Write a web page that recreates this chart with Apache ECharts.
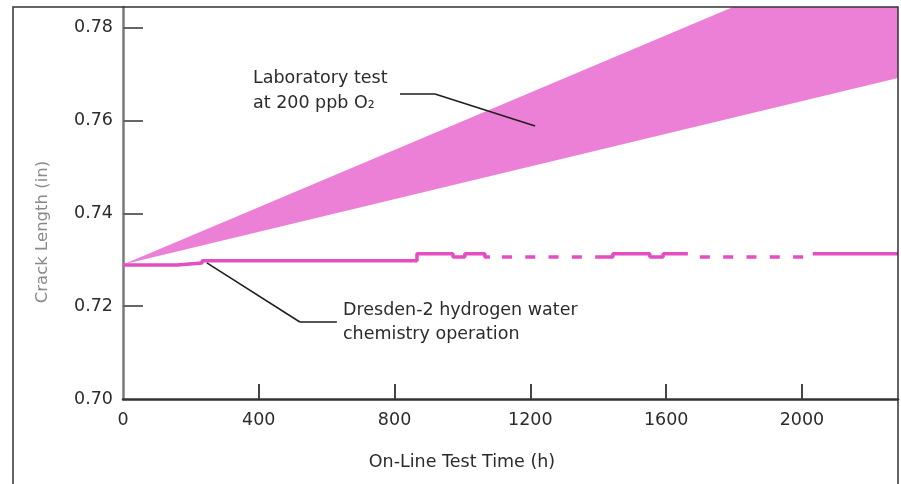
<!DOCTYPE html>
<html>
<head>
<meta charset="utf-8">
<script src="https://cdn.jsdelivr.net/npm/echarts@6/dist/echarts.min.js"></script>
<style>
  html, body { margin: 0; padding: 0; background: #fff; }
  #chart { width: 901px; height: 484px; }
</style>
</head>
<body>
<div id="chart"></div>
<script>
// Laboratory test at 200 ppb O2: envelope of crack length (in) vs time (h)
const labTime = [0, 2283];
const labLower = [0.729, 0.7692];
const labUpper = [0.729, 0.7995];

// Dresden-2 hydrogen water chemistry: measured crack length (step trace)
const hwcTimeA = [0, 159, 233, 866, 972, 1007, 1066, 1081];
const hwcLenA  = [0.7289, 0.7293, 0.7298, 0.7313, 0.7306, 0.7313, 0.7306, 0.7306];
const hwcTimeB = [1081, 1399];           // dashed span
const hwcLenB  = [0.7306, 0.7306];
const hwcTimeC = [1399, 1443, 1552, 1591, 1664];
const hwcLenC  = [0.7306, 0.7313, 0.7306, 0.7313, 0.7313];
const hwcTimeD = [1664, 2032];           // dashed span
const hwcLenD  = [0.7306, 0.7306];
const hwcTimeE = [2032, 2283];
const hwcLenE  = [0.7313, 0.7313];

// Axis ticks
const xTickLabels = [0, 400, 800, 1200, 1600, 2000];
const xTickMarks = [400, 800, 1200, 1600, 2000];
const yTickLabels = [0.70, 0.72, 0.74, 0.76, 0.78];
const yTickMarks = [0.72, 0.74, 0.76, 0.78];

// Leader lines for the two callouts (data coordinates)
const labLeader = [[816, 0.76575], [919, 0.76575], [1214, 0.75885]];
const hwcLeader = [[247, 0.72932], [521, 0.7166], [630, 0.7166]];

const FONT = 'DejaVu Sans';
const TEXT = '#2b2b2b';
const BAND = '#EC80D6';
const TRACE = '#E54DC2';

const zip = (xs, ys) => xs.map((x, i) => [x, ys[i]]);
const toSegments = pts => pts.slice(1).map((p, i) => [{ coord: pts[i] }, { coord: p }]);

function traceSeries(xs, ys, dashed) {
  return {
    type: 'line',
    step: 'end',
    data: zip(xs, ys),
    showSymbol: false,
    symbol: 'none',
    silent: true,
    z: 4,
    lineStyle: {
      color: TRACE,
      width: 3.5,
      type: dashed ? [10, 13.3] : 'solid',
      dashOffset: dashed ? 11.3 : 0,
      cap: 'butt'
    }
  };
}

const chart = echarts.init(document.getElementById('chart'), null, { renderer: 'canvas' });

chart.setOption({
  animation: false,
  backgroundColor: '#fff',
  grid: { left: 123, right: 3, top: 7, bottom: 85, containLabel: false, outerBoundsMode: 'none' },
  xAxis: {
    type: 'value',
    min: 0,
    max: 2283,
    interval: 400,
    splitLine: { show: false },
    axisLine: { show: true, lineStyle: { color: '#333', width: 2.5 } },
    axisTick: {
      show: true, inside: true, length: 15,
      customValues: xTickMarks,
      lineStyle: { color: '#444', width: 2 }
    },
    axisLabel: {
      customValues: xTickLabels,
      margin: 12,
      color: TEXT,
      fontFamily: FONT,
      fontSize: 17.5,
      formatter: v => String(v)
    }
  },
  yAxis: {
    type: 'value',
    min: 0.70,
    max: 0.7845,
    interval: 0.02,
    splitLine: { show: false },
    axisLine: { show: true, lineStyle: { color: '#7a7a7a', width: 2.5 } },
    axisTick: {
      show: true, inside: true, length: 20,
      customValues: yTickMarks,
      lineStyle: { color: '#666', width: 2 }
    },
    axisLabel: {
      customValues: yTickLabels,
      margin: 10,
      color: TEXT,
      fontFamily: FONT,
      fontSize: 17.5,
      formatter: v => v.toFixed(2)
    }
  },
  series: [
    {
      // laboratory envelope: polygon between lower and upper edges
      type: 'custom',
      silent: true,
      clip: true,
      z: 2,
      data: labTime.map((t, i) => [t, labLower[i], labUpper[i]]),
      encode: { x: 0, y: [1, 2] },
      renderItem: function (params, api) {
        if (params.dataIndex !== 0) return null;
        const upper = labTime.map((t, i) => api.coord([t, labUpper[i]]));
        const lower = labTime.map((t, i) => api.coord([t, labLower[i]])).reverse();
        return {
          type: 'polygon',
          shape: { points: upper.concat(lower) },
          style: { fill: BAND, stroke: null }
        };
      }
    },
    traceSeries(hwcTimeA, hwcLenA, false),
    traceSeries(hwcTimeB, hwcLenB, true),
    traceSeries(hwcTimeC, hwcLenC, false),
    traceSeries(hwcTimeD, hwcLenD, true),
    traceSeries(hwcTimeE, hwcLenE, false),
    {
      // callout leaders
      type: 'line',
      data: [],
      silent: true,
      z: 6,
      markLine: {
        silent: true,
        symbol: ['none', 'none'],
        label: { show: false },
        animation: false,
        lineStyle: { color: '#1e1e1e', width: 1.5, type: 'solid' },
        emphasis: { disabled: true },
        data: toSegments(labLeader).concat(toSegments(hwcLeader))
      }
    }
  ],
  graphic: [
    {
      // outer frame
      type: 'polyline',
      silent: true,
      shape: { points: [[13, 484], [13, 7], [898, 7], [898, 484]] },
      style: { stroke: '#333', lineWidth: 1.5, fill: null },
      z: 10
    },
    {
      type: 'text', silent: true,
      x: 43, y: 232, rotation: Math.PI / 2,
      style: {
        text: 'Crack Length (in)', fill: '#8a8a8a',
        font: '16.5px "' + FONT + '"', align: 'center', verticalAlign: 'middle'
      }
    },
    {
      type: 'text', silent: true,
      x: 462, y: 462,
      style: {
        text: 'On-Line Test Time (h)', fill: TEXT,
        font: '17.5px "' + FONT + '"', align: 'center', verticalAlign: 'middle'
      }
    },
    {
      type: 'text', silent: true,
      x: 253, y: 78,
      style: { text: 'Laboratory test', fill: TEXT, font: '17.5px "' + FONT + '"', align: 'left', verticalAlign: 'middle' }
    },
    {
      type: 'text', silent: true,
      x: 253, y: 103,
      style: { text: 'at 200 ppb O\u2082', fill: TEXT, font: '17.5px "' + FONT + '"', align: 'left', verticalAlign: 'middle' }
    },
    {
      type: 'text', silent: true,
      x: 343, y: 310,
      style: { text: 'Dresden-2 hydrogen water', fill: TEXT, font: '17.5px "' + FONT + '"', align: 'left', verticalAlign: 'middle' }
    },
    {
      type: 'text', silent: true,
      x: 343, y: 334,
      style: { text: 'chemistry operation', fill: TEXT, font: '17.5px "' + FONT + '"', align: 'left', verticalAlign: 'middle' }
    }
  ]
});
</script>
</body>
</html>
